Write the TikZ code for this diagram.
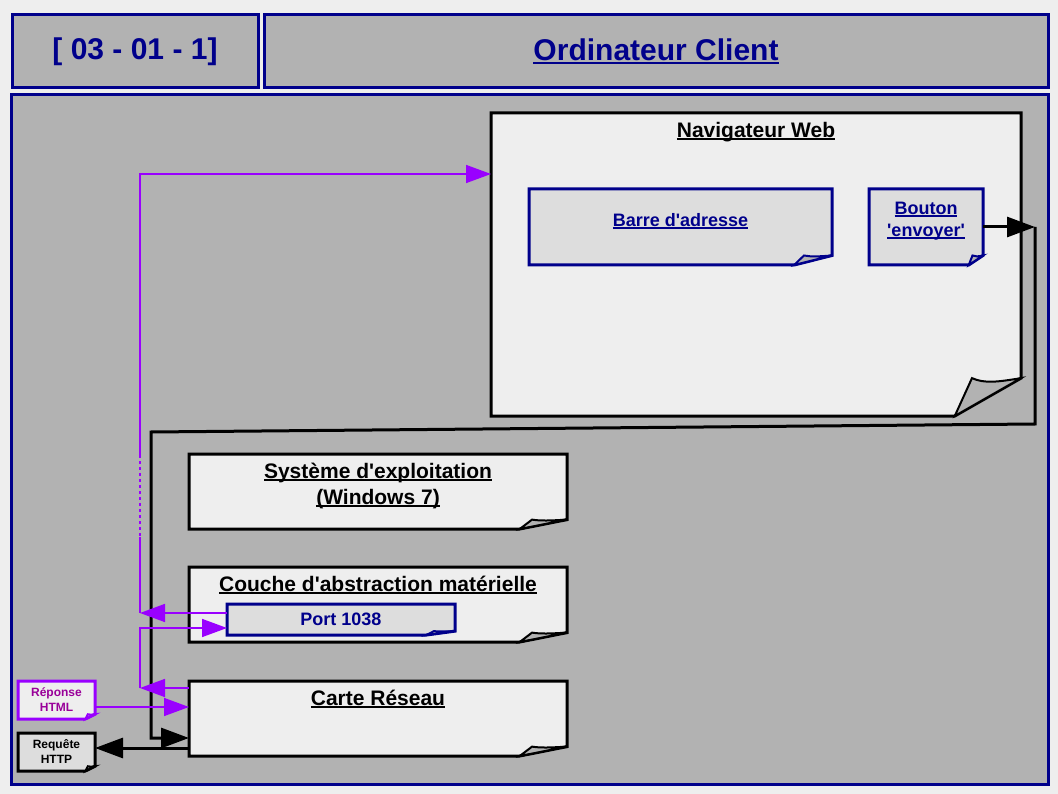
\documentclass[tikz,border=0pt]{standalone}
\usepackage{fontspec}
\setmainfont{Liberation Sans}
\usetikzlibrary{positioning, calc, arrows.meta}

\definecolor{pagebg}{RGB}{238,238,238}
\definecolor{panelgray}{RGB}{178,178,178}
\definecolor{docfill}{RGB}{238,238,238}
\definecolor{subfill}{RGB}{221,221,221}
\definecolor{navyline}{RGB}{0,0,139}
\definecolor{violetline}{RGB}{153,0,255}
\definecolor{tagtext}{RGB}{153,0,153}

\pgfdeclarelayer{background}
\pgfsetlayers{background,main}

% underline at a fixed depth below the baseline
\newcommand{\ulin}[1]{\setbox0\hbox{#1}\rlap{\rule[-0.13em]{\wd0}{0.09em}}\box0}
\newcommand{\apos}{\textquotesingle}

% page with a folded corner, drawn under node #1
\newcommand{\dogear}[3]{%
  \draw[#2, line width=3pt, fill=#3] let \p1=(#1.north west), \p2=(#1.south east),
    \n1={0.125*(\x2-\x1)}, \n2={0.125*(\y1-\y2)} in
    (\p1) -- (\x2,\y1) -- (\x2,\y2+\n2) -- (\x2-\n1,\y2) -- (\x1,\y2) -- cycle;
  \draw[#2, line width=2pt, fill=panelgray] let \p1=(#1.north west), \p2=(#1.south east),
    \n1={0.125*(\x2-\x1)}, \n2={0.125*(\y1-\y2)} in
    (\x2-\n1,\y2) -- (\x2-0.74*\n1,\y2+\n2)
    .. controls (\x2-0.55*\n1,\y2+0.85*\n2) and (\x2-0.35*\n1,\y2+0.9*\n2) .. (\x2,\y2+\n2) -- cycle;
}

\tikzset{
  hdr/.style={draw=navyline, line width=3pt, fill=panelgray, text=navyline,
    font=\fontsize{30}{36}\selectfont\bfseries},
  page/.style={anchor=north west, inner sep=0pt, outer sep=0pt},
  ttl/.style={inner sep=0pt, align=center, font=\fontsize{21}{26}\selectfont\bfseries},
  subt/.style={inner sep=0pt, align=center, text=navyline, font=\fontsize{18}{22}\selectfont\bfseries},
  tag/.style={align=center, font=\fontsize{12}{15}\selectfont\bfseries},
  blk/.style={line width=3pt, -{Triangle[length=28pt, width=20pt]}},
  pur/.style={violetline, line width=1.6pt, -{Triangle[length=25pt, width=18pt]}},
}

\begin{document}
\begin{tikzpicture}[x=1pt, y=-1pt]

    \useasboundingbox (0,0) rectangle (1058,794);

    % --- Header ---
    \node[hdr, minimum width=246pt, minimum height=73pt] (ref) at (135,51.5) {[ 03 - 01 - 1]};
    \node[hdr, minimum width=784pt, minimum height=73pt] (host) at (656,51.5) {\ulin{Ordinateur Client}};

    % --- Browser ---
    \node[page, minimum width=530pt, minimum height=303pt,
      label={[ttl, anchor=north, yshift=-9pt]north:\ulin{Navigateur Web}}] (nav) at (491,113) {};
    \node[page, minimum width=303pt, minimum height=76pt,
      label={[subt, anchor=center, yshift=6pt]center:\ulin{Barre d\apos adresse}}] (addr) at (529,189) {};
    \node[page, minimum width=114pt, minimum height=76pt,
      label={[subt, anchor=center, yshift=6pt]center:\ulin{Bouton}\\\ulin{\apos envoyer\apos}}] (send) at (869,189) {};

    % --- System layers ---
    \node[page, minimum width=378pt, minimum height=75pt,
      label={[ttl, anchor=north, yshift=-9pt]north:\ulin{Système d\apos exploitation}\\\ulin{(Windows 7)}}] (os) at (189,454) {};
    \node[page, minimum width=378pt, minimum height=75pt,
      label={[ttl, anchor=north, yshift=-9pt]north:\ulin{Couche d\apos abstraction matérielle}}] (hal) at (189,567) {};
    \node[page, subt, minimum width=228pt, minimum height=31pt] (port) at (227,604) {Port 1038};
    \node[page, minimum width=378pt, minimum height=75pt,
      label={[ttl, anchor=north, yshift=-9pt]north:\ulin{Carte Réseau}}] (nic) at (189,681) {};

    % --- Messages ---
    \node[page, tag, text=tagtext, minimum width=77pt, minimum height=38pt] (resp) at (18,681) {Réponse\\HTML};
    \node[page, tag, minimum width=77pt, minimum height=38pt] (req) at (18,733) {Requête\\HTTP};

    % --- Panels and page shapes ---
    \begin{pgfonlayer}{background}
      \fill[pagebg] (0,0) rectangle (1058,794);
      \draw[navyline, line width=3pt, fill=panelgray] (11,95) rectangle (1048,784);
      \dogear{nav}{black}{docfill}
      \dogear{addr}{navyline}{subfill}
      \dogear{send}{navyline}{subfill}
      \dogear{os}{black}{docfill}
      \dogear{hal}{black}{docfill}
      \dogear{port}{navyline}{subfill}
      \dogear{nic}{black}{docfill}
      \dogear{resp}{violetline}{docfill}
      \dogear{req}{black}{subfill}
    \end{pgfonlayer}

    % --- Request path (black) ---
    \coordinate (k1) at (1035,227);
    \coordinate (k2) at (1035,424);
    \coordinate (k3) at (151,432);
    \coordinate (k4) at (151,738);
    \draw[blk] (send.east) -- (k1);
    \draw[blk] (k1) -- (k2) -- (k3) -- (k4) -- (k4 -| nic.west);
    \draw[blk] ([yshift=4pt]req.east -| nic.west) -- ([yshift=4pt]req.east);

    % --- Response path (violet) ---
    \coordinate (v1) at (140,613);
    \coordinate (v2) at (140,688);
    \draw[pur] ([yshift=-7pt]nic.north west) -- (v2);
    \draw[pur] (v2) |- ([yshift=-8.5pt]port.west);
    \draw[pur] ([yshift=6.5pt]port.west) -- (v1);
    \draw[pur] (v1) |- ([yshift=-61pt]nav.north west);
    \draw[panelgray, line width=2pt, dash pattern=on 3pt off 3pt] (140,458) -- (140,537);
    \draw[pur] ([yshift=-7pt]resp.east) -- ([yshift=-7pt]resp.east -| nic.west);

\end{tikzpicture}
\end{document}
